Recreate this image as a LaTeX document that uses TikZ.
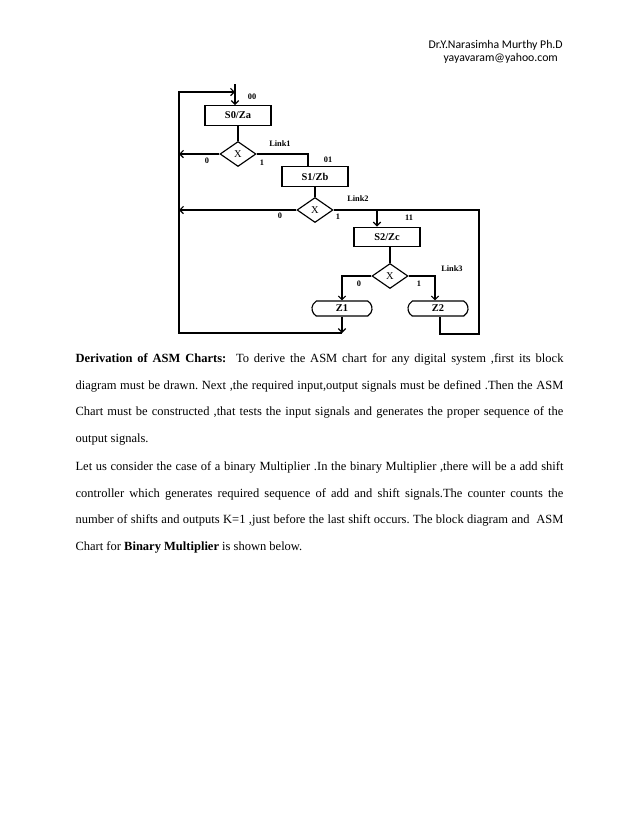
\documentclass[tikz,border=0pt]{standalone}
\usepackage{fontspec}
\setmainfont{Liberation Serif}
\newfontfamily\hdrfont{Carlito}
\usetikzlibrary{arrows.meta,shapes.geometric,shapes.misc}
\newcommand{\jline}[1]{\makebox[468pt][s]{#1}}
\begin{document}
\frenchspacing
\begin{tikzpicture}[x=0.9592pt,y=-0.9592pt,line width=1.1pt,
  arr/.style={-{Straight Barb[length=3.5pt,width=7pt]}},
  stbox/.style={draw,rectangle,minimum width=63.3pt,minimum height=19pt,inner sep=0pt,font=\fontsize{10}{11}\selectfont\bfseries},
  dec/.style={draw,diamond,minimum width=34.5pt,minimum height=24pt,inner sep=0pt,font=\fontsize{10}{11}\selectfont},
  cout/.style={draw,rounded rectangle,rounded rectangle arc length=120,minimum width=57.6pt,minimum height=14.4pt,inner sep=0pt,font=\fontsize{10}{11}\selectfont\bfseries},
  lab/.style={inner sep=0pt,font=\fontsize{8}{9}\selectfont\bfseries},
  hdr/.style={inner sep=0pt,anchor=base west,font=\hdrfont\fontsize{11.3}{13}\selectfont},
  para/.style={inner sep=0pt,anchor=base west,align=left,font=\fontsize{12}{25.5}\selectfont}]
\useasboundingbox (0,0) rectangle (638,826);
% header
\node[hdr] (h1) at (428,48.5) {Dr.Y.Narasimha Murthy Ph.D};
\node[hdr] (h2) at (443,61.5) {yayavaram@yahoo.com};
% chart nodes
\node[stbox] (s0) at (238,115.5) {S0/Za};
\node[dec] (d1) at (238,154) {X};
\node[stbox] (s1) at (315,176.5) {S1/Zb};
\node[dec] (d2) at (315,210) {X};
\node[stbox] (s2) at (387,237) {S2/Zc};
\node[dec] (d3) at (390,276) {X};
\node[cout] (z1) at (342,308.5) {Z1};
\node[cout] (z2) at (438,308.5) {Z2};
% coordinates
\coordinate (top) at (235,84);
\coordinate (bl) at (179,333);
\coordinate (tl) at (179,92);
\coordinate (j1) at (342,333);
\coordinate (s1in) at (308,160);
\coordinate (r2) at (479,210);
\coordinate (r3) at (479,334);
\coordinate (z2out) at (440,320);
\coordinate (br) at (377,210);
\coordinate (z2in) at (435,290);
% connectors
\draw[arr] (top) -- (top |- s0.north);
\draw[arr] (j1) -- (bl) -- (tl) -- (tl -| top);
\draw (s0.south) -- (d1.north);
\draw[arr] (d1.west) -- (d1.west -| bl);
\draw (d1.east) -- (d1.east -| s1in) -- (s1in |- s1.north);
\draw (s1.south) -- (d2.north);
\draw[arr] (d2.west) -- (d2.west -| bl);
\draw (d2.east) -- (r2) -- (r3) -- (r3 -| z2out) -- (z2out |- z2.south);
\draw[arr] (br) -- (br |- s2.north);
\draw (d3.north) -- (d3.north |- s2.south);
\draw[arr] (d3.west) -- (d3.west -| z1) -- (z1.north);
\draw[arr] (d3.east) -- (d3.east -| z2in) -- (z2in |- z2.north);
\draw[arr] (z1.south) -- (z1.south |- j1);
% labels
\node[lab] (l00) at (252,97) {00};
\node[lab] (lk1) at (280,144) {Link1};
\node[lab] (a0) at (207,161) {0};
\node[lab] (a1) at (262,163) {1};
\node[lab] (l01) at (328,160) {01};
\node[lab] (lk2) at (358,199) {Link2};
\node[lab] (b0) at (280,216) {0};
\node[lab] (b1) at (338,217) {1};
\node[lab] (l11) at (409,218) {11};
\node[lab] (lk3) at (452,269) {Link3};
\node[lab] (c0) at (359,284) {0};
\node[lab] (c1) at (419,284) {1};
% text
\node[para] (p1) at (75,442.5) {\jline{\textbf{Derivation of ASM Charts:}\ \ To derive the ASM chart for any digital system ,first its block}\\
\jline{diagram must be drawn. Next ,the required input,output signals must be defined .Then the ASM}\\
\jline{Chart must be constructed ,that tests the input signals and generates the proper sequence of the}\\
output signals.};
\node[para] (p2) at (75,550.5) {\jline{Let us consider the case of a binary Multiplier .In the binary Multiplier ,there will be a add shift}\\
\jline{controller which generates required sequence of add and shift signals.The counter counts the}\\
\jline{number of shifts and outputs K=1 ,just before the last shift occurs. The block diagram and\ \ ASM}\\
Chart for \textbf{Binary Multiplier} is shown below.};
\end{tikzpicture}
\end{document}
